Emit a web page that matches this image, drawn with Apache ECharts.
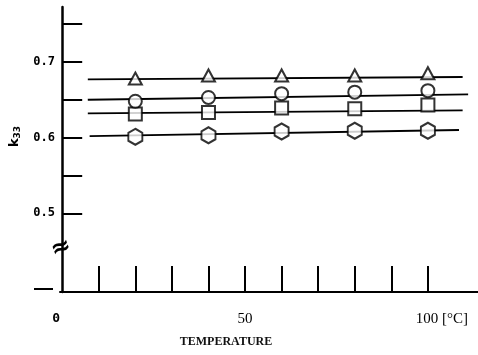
<!DOCTYPE html>
<html>
<head>
<meta charset="utf-8">
<script src="https://cdn.jsdelivr.net/npm/echarts@6/dist/echarts.min.js"></script>
<style>html,body{margin:0;padding:0;background:#fff;}#c{width:478px;height:355px;}</style>
</head>
<body>
<div id="c"></div>
<script>
// ---- data ----
const xValues = [20, 40, 60, 80, 100];
const triangleValues = [0.678, 0.682, 0.682, 0.682, 0.685];
const circleValues = [0.648, 0.653, 0.658, 0.660, 0.662];
const squareValues = [0.631, 0.633, 0.639, 0.638, 0.643];
const hexagonValues = [0.601, 0.603, 0.608, 0.609, 0.609];
// fitted straight lines: [start, end]
const triangleLineX = [7, 109.5];
const triangleLineY = [0.677, 0.680];
const circleLineX = [7, 111];
const circleLineY = [0.650, 0.657];
const squareLineX = [7, 109.5];
const squareLineY = [0.632, 0.636];
const hexagonLineX = [7.5, 108.5];
const hexagonLineY = [0.602, 0.610];
// axes
const yTickValues = [0.5, 0.55, 0.6, 0.65, 0.7, 0.75];
const yLabelValues = [0.5, 0.6, 0.7];
const yOuterTickValues = [0.4];
const yBreakValue = 0.454;
const xTickValues = [10, 20, 30, 40, 50, 60, 70, 80, 90, 100];
const xLabelValues = [0, 50, 100];
const xAxisName = 'TEMPERATURE';
const xUnit = '[°C]';

const hexPath = 'path://M0,-1 L0.866,-0.5 L0.866,0.5 L0,1 L-0.866,0.5 L-0.866,-0.5 Z';
const pairs = (xs, ys) => xs.map((x, i) => [x, ys[i]]);

const lineSeries = (xs, ys) => ({
  type: 'line', data: pairs(xs, ys), symbol: 'none', silent: true, z: 1,
  lineStyle: { color: '#000', width: 1.8 }
});
const markSeries = (ys, symbol, size) => ({
  type: 'scatter', data: pairs(xValues, ys), symbol: symbol, symbolSize: size, z: 3,
  itemStyle: { color: '#fff', borderColor: '#000', borderWidth: 2 }
});

const chart = echarts.init(document.getElementById('c'), null, { renderer: 'canvas' });
chart.setOption({
  animation: false,
  backgroundColor: '#fff',
  grid: { left: 60, right: 0, top: 7, bottom: 63, containLabel: false, outerBoundsMode: 'none' },
  xAxis: {
    type: 'value', min: -0.6, max: 113.7,
    name: xAxisName, nameLocation: 'middle', nameGap: 44,
    nameTextStyle: { fontFamily: 'Liberation Serif', fontSize: 12, fontWeight: 'bold', color: '#111', padding: [0, 86, 0, 0] },
    axisLine: { lineStyle: { color: '#000', width: 2 } },
    axisTick: { customValues: xTickValues, inside: true, length: 26, lineStyle: { color: '#000', width: 2 } },
    axisLabel: {
      customValues: xLabelValues, margin: 20,
      formatter: v => v === 0 ? '{a|0}' : (v === 100 ? '{d|100}{c| ' + xUnit + '}' : '{b|' + v + '}'),
      rich: {
        a: { fontFamily: 'DejaVu Sans Mono', fontWeight: 'bold', fontSize: 13, color: '#000', padding: [0, 12, 0, 0] },
        b: { fontFamily: 'Liberation Serif', fontSize: 15, color: '#000' },
        d: { fontFamily: 'Liberation Serif', fontSize: 15, color: '#000', padding: [0, 0, 0, 28] },
        c: { fontFamily: 'Liberation Serif', fontSize: 15, color: '#000' }
      }
    },
    splitLine: { show: false }
  },
  yAxis: [{
    type: 'value', min: 0.396, max: 0.7725,
    name: '{k|k}{s|33}', nameLocation: 'middle', nameGap: 38, nameRotate: 90,
    nameTextStyle: {
      padding: [0, 0, 0, 26],
      rich: {
        k: { fontFamily: 'DejaVu Sans', fontWeight: 'bold', fontSize: 13, color: '#000' },
        s: { fontFamily: 'DejaVu Sans', fontWeight: 'bold', fontSize: 9, color: '#000', verticalAlign: 'bottom', padding: [6, 0, 0, 0] }
      }
    },
    axisLine: { lineStyle: { color: '#000', width: 2.5 } },
    axisTick: { customValues: yTickValues, inside: true, length: 20, lineStyle: { color: '#000', width: 2 } },
    axisLabel: {
      customValues: yLabelValues, margin: 5,
      formatter: v => v.toFixed(1),
      fontFamily: 'DejaVu Sans Mono', fontWeight: 'bold', fontSize: 12, color: '#000'
    },
    splitLine: { show: false }
  }, {
    type: 'value', min: 0.396, max: 0.7725, position: 'left', offset: 7,
    axisLine: { show: false },
    axisTick: { customValues: yOuterTickValues, inside: false, length: 19, lineStyle: { color: '#000', width: 2 } },
    axisLabel: { show: false },
    splitLine: { show: false }
  }],
  series: [
    lineSeries(triangleLineX, triangleLineY),
    lineSeries(circleLineX, circleLineY),
    lineSeries(squareLineX, squareLineY),
    lineSeries(hexagonLineX, hexagonLineY),
    markSeries(triangleValues, 'triangle', [13, 12]),
    markSeries(squareValues, 'rect', [13, 13]),
    markSeries(circleValues, 'circle', 13),
    markSeries(hexagonValues, hexPath, [14, 16])
  ]
});

const bp = chart.convertToPixel({ xAxisIndex: 0, yAxisIndex: 0 }, [0, yBreakValue]);
const ax = chart.convertToPixel({ xAxisIndex: 0 }, -0.6);
chart.setOption({
  graphic: [{
    type: 'text', x: ax + 1, y: bp[1], z: 10,
    style: { text: '≈', font: 'bold 24px DejaVu Sans', fill: '#000', align: 'center', verticalAlign: 'middle' },
    rotation: 0.35
  }]
});
</script>
</body>
</html>
